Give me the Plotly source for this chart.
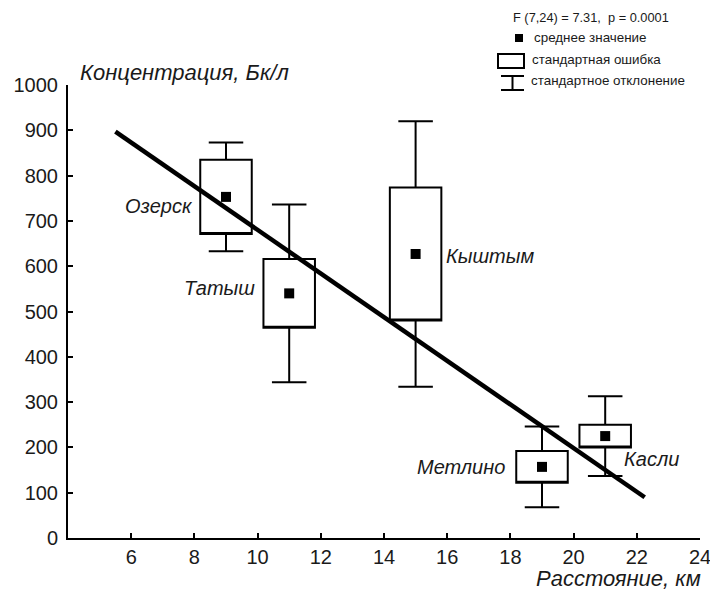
import plotly.graph_objects as go

# Average concentration by settlement vs. distance from the source
sites = ["Озерск", "Татыш", "Кыштым", "Метлино", "Касли"]
distance_km = [9, 11, 15, 19, 21]
mean_bq = [753, 540, 627, 157, 225]
se_bq = [82, 76, 147, 35, 25]
sd_bq = [120, 196, 293, 89, 88]

# Fitted trend line (end points)
trend_x = [5.5, 22.25]
trend_y = [897, 90]

x_ticks = [6, 8, 10, 12, 14, 16, 18, 20, 22, 24]
y_ticks = [0, 100, 200, 300, 400, 500, 600, 700, 800, 900, 1000]

FONT = "Liberation Sans, Arial, sans-serif"
INK = "#1a1a1a"

W, H = 710, 590
M_L, M_R, M_T, M_B = 68, 10, 85, 52
PW, PH = W - M_L - M_R, H - M_T - M_B


def px(xp):
    return (xp - M_L) / PW


def py(yp):
    return (H - M_B - yp) / PH


fig = go.Figure()

# Boxes: mean ± standard error, whiskers: mean ± standard deviation
fig.add_trace(go.Box(
    x=distance_km,
    q1=[m - s for m, s in zip(mean_bq, se_bq)],
    median=[m - s for m, s in zip(mean_bq, se_bq)],
    q3=[m + s for m, s in zip(mean_bq, se_bq)],
    lowerfence=[m - d for m, d in zip(mean_bq, sd_bq)],
    upperfence=[m + d for m, d in zip(mean_bq, sd_bq)],
    width=1.63,
    whiskerwidth=0.67,
    boxpoints=False,
    fillcolor="rgba(255,255,255,0)",
    line=dict(color="black", width=2),
    hoverinfo="skip",
    showlegend=False,
))

fig.add_trace(go.Scatter(
    x=trend_x, y=trend_y, mode="lines",
    line=dict(color="black", width=4.5),
    hoverinfo="skip", showlegend=False,
))

fig.add_trace(go.Scatter(
    x=distance_km, y=mean_bq, mode="markers",
    marker=dict(symbol="square", size=10, color="black"),
    hoverinfo="skip", showlegend=False,
))

# Site labels, offset from the mean marker in pixels
label_style = [
    dict(xanchor="right", xshift=-31, yshift=-9),
    dict(xanchor="right", xshift=-32, yshift=5),
    dict(xanchor="left", xshift=28, yshift=-2),
    dict(xanchor="right", xshift=-35, yshift=0),
    dict(xanchor="left", xshift=17, yshift=-23),
]
for name, xv, yv, st in zip(sites, distance_km, mean_bq, label_style):
    fig.add_annotation(
        x=xv, y=yv, xref="x", yref="y", text=f"<i>{name}</i>",
        showarrow=False, yanchor="middle",
        font=dict(family=FONT, size=20, color=INK), **st,
    )

# Axis titles
fig.add_annotation(
    x=px(78), y=py(72), xref="paper", yref="paper",
    text="<i>Концентрация, Бк/л</i>", showarrow=False,
    xanchor="left", yanchor="middle",
    font=dict(family=FONT, size=22, color=INK),
)
fig.add_annotation(
    x=px(703), y=py(578), xref="paper", yref="paper",
    text="<i>Расстояние, км</i>", showarrow=False,
    xanchor="right", yanchor="middle",
    font=dict(family=FONT, size=22, color=INK),
)

# Key in the upper right corner
fig.add_annotation(
    x=px(511), y=py(18), xref="paper", yref="paper",
    text="F (7,24) = 7.31,  p = 0.0001", showarrow=False,
    xanchor="left", yanchor="middle",
    font=dict(family=FONT, size=12.8, color=INK),
)
key_font = dict(family=FONT, size=13.4, color=INK)
key_rows = [
    ("среднее значение", 532, 38),
    ("стандартная ошибка", 530, 60),
    ("стандартное отклонение", 529, 81),
]
for txt, xp, yp in key_rows:
    fig.add_annotation(
        x=px(xp), y=py(yp), xref="paper", yref="paper", text=txt,
        showarrow=False, xanchor="left", yanchor="middle", font=key_font,
    )

line_k = dict(color="black", width=2)
shapes = [
    dict(type="rect", xref="paper", yref="paper",
         x0=px(515), x1=px(523), y0=py(42), y1=py(34),
         fillcolor="black", line=dict(width=0)),
    dict(type="rect", xref="paper", yref="paper",
         x0=px(498), x1=px(524), y0=py(68), y1=py(54), line=line_k),
    dict(type="line", xref="paper", yref="paper",
         x0=px(501), x1=px(524), y0=py(76), y1=py(76), line=line_k),
    dict(type="line", xref="paper", yref="paper",
         x0=px(512.5), x1=px(512.5), y0=py(76), y1=py(90), line=line_k),
    dict(type="line", xref="paper", yref="paper",
         x0=px(501), x1=px(524), y0=py(90), y1=py(90), line=line_k),
]

axis_common = dict(
    showline=True, linecolor="black", linewidth=2,
    ticks="inside", ticklen=5, tickwidth=2, tickcolor="black",
    showgrid=False, zeroline=False,
    ticklabeloverflow="allow",
    tickfont=dict(family=FONT, size=20, color=INK),
)

fig.update_layout(
    width=W, height=H,
    margin=dict(l=M_L, r=M_R, t=M_T, b=M_B),
    paper_bgcolor="white", plot_bgcolor="white",
    shapes=shapes,
    xaxis=dict(range=[4, 24], tickvals=x_ticks, automargin=False, **axis_common),
    yaxis=dict(range=[0, 1000], tickvals=y_ticks, ticklabelstandoff=4,
               automargin=False, **axis_common),
)

fig.write_html("out.html")
